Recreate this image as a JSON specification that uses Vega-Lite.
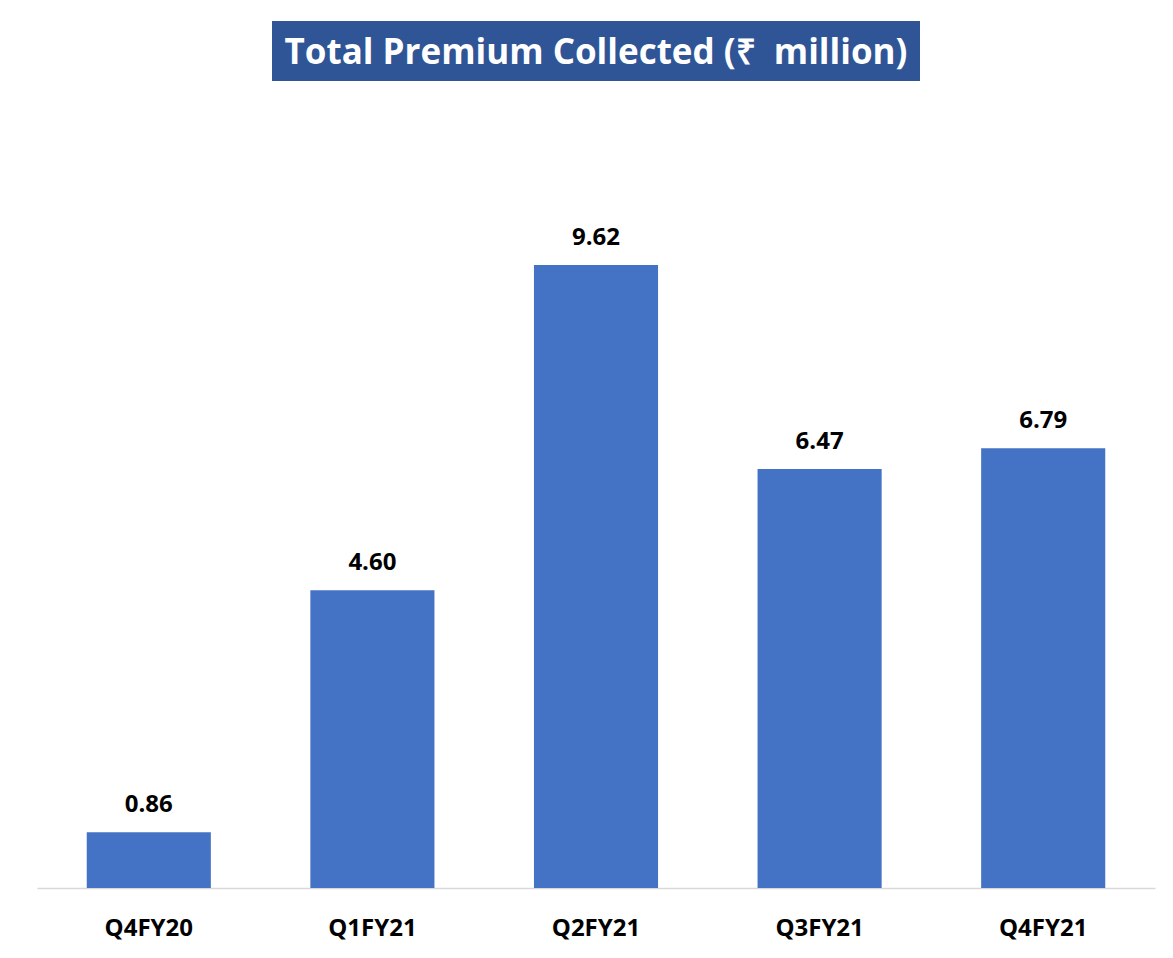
{
  "$schema": "https://vega.github.io/schema/vega-lite/v6.json",
  "background": "white",
  "padding": {"left": 37, "top": 21, "right": 18, "bottom": 18},
  "spacing": 30,
  "center": true,
  "config": {"view": {"stroke": null}, "font": "Open Sans"},
  "vconcat": [
    {
      "width": 648,
      "height": 60,
      "view": {"fill": "#2F5597", "stroke": null},
      "data": {"values": [{"title": "Total Premium Collected (₹\u00a0\u00a0million)"}]},
      "mark": {"type": "text", "color": "white", "fontSize": 35, "fontWeight": "bold", "font": "Open Sans", "dy": 2},
      "encoding": {"text": {"field": "title"}}
    },
    {
      "width": 1118,
      "height": 777,
      "data": {"values": [
        {"quarter": "Q4FY20", "value": 0.86},
        {"quarter": "Q1FY21", "value": 4.60},
        {"quarter": "Q2FY21", "value": 9.62},
        {"quarter": "Q3FY21", "value": 6.47},
        {"quarter": "Q4FY21", "value": 6.79}
      ]},
      "encoding": {
        "x": {
          "field": "quarter", "type": "nominal", "sort": null,
          "scale": {"paddingInner": 0.445, "paddingOuter": 0.2225},
          "axis": {"title": null, "ticks": false, "tickSize": 0, "labelPadding": 47, "labelBaseline": "alphabetic",
                   "labelFontSize": 24, "labelFontWeight": "bold", "labelColor": "black", "labelFont": "Open Sans",
                   "domainColor": "#D9D9D9", "domainWidth": 1.5, "labelAngle": 0, "grid": false}
        },
        "y": {
          "field": "value", "type": "quantitative",
          "scale": {"domain": [0, 12], "nice": false},
          "axis": null
        }
      },
      "layer": [
        {"mark": {"type": "bar", "color": "#4472C4"}},
        {"mark": {"type": "text", "dy": -20, "baseline": "alphabetic", "fontSize": 24, "fontWeight": "bold", "color": "black", "font": "Open Sans"},
         "encoding": {"text": {"field": "value", "type": "quantitative", "format": ".2f"}}}
      ]
    }
  ]
}
